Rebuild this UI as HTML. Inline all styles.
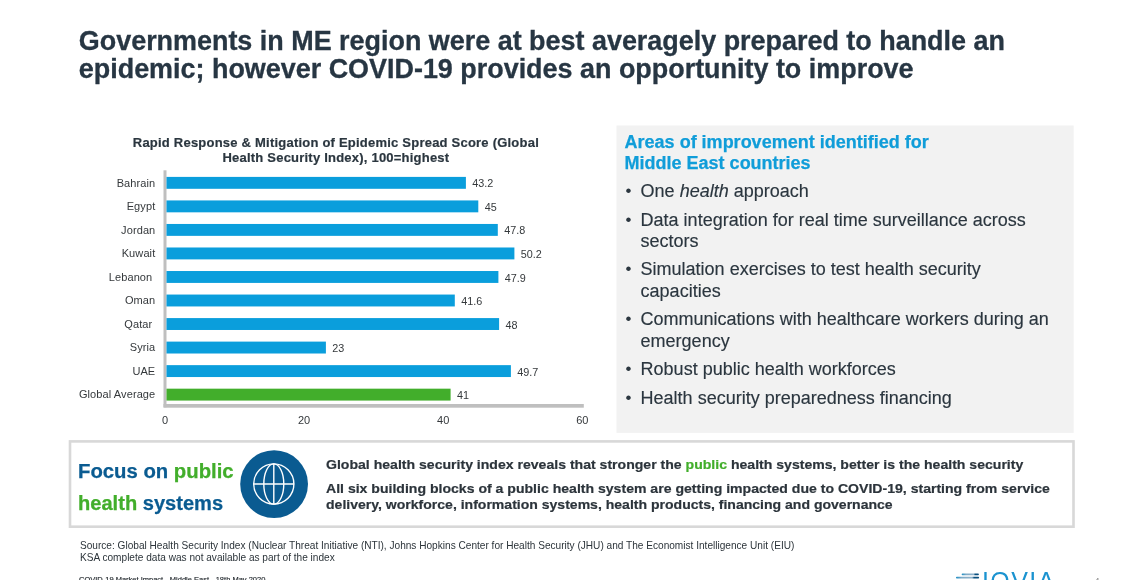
<!DOCTYPE html>
<html lang="en">
<head>
<meta charset="utf-8">
<title>Governments in ME region were at best averagely prepared to handle an epidemic</title>
<style>
html,body{margin:0;padding:0;background:#fff;}
body{width:1130px;height:580px;position:relative;overflow:hidden;font-family:"Liberation Sans",Arial,Helvetica,sans-serif;}
.t{position:absolute;white-space:nowrap;margin:0;padding:0;}
.b{position:absolute;}
.g{color:#42ae2b;-webkit-text-stroke-color:#42ae2b;}
</style>
</head>
<body>
<header>
<div class="t" style="left:78.80px;top:26px;font-size:26.93px;line-height:30px;color:#273643;font-weight:bold;-webkit-text-stroke:0.3px #273643;">Governments in ME region were at best averagely prepared to handle an</div>
<div class="t" style="left:78.80px;top:54px;font-size:26.93px;line-height:30px;color:#273643;font-weight:bold;-webkit-text-stroke:0.3px #273643;">epidemic; however COVID-19 provides an opportunity to improve</div>
</header>
<section>
<div class="t" style="left:35.90px;width:600px;text-align:center;top:128px;font-size:13px;line-height:30px;color:#2b363f;font-weight:bold;letter-spacing:0.22px;-webkit-text-stroke:0.2px #2f3b44;">Rapid Response &amp; Mitigation of Epidemic Spread Score (Global</div>
<div class="t" style="left:35.90px;width:600px;text-align:center;top:143px;font-size:13px;line-height:30px;color:#2b363f;font-weight:bold;letter-spacing:0.22px;-webkit-text-stroke:0.2px #2f3b44;">Health Security Index), 100=highest</div>
<svg class="b" style="left:0;top:0;" width="1130" height="580" viewBox="0 0 1130 580">
<rect x="616.5" y="125.5" width="457.2" height="307.4" fill="#f2f2f2"/>
<rect x="70" y="441.4" width="1003.5" height="85.3" fill="#fff" stroke="#d8d8d8" stroke-width="2.6"/>
<rect x="163.5" y="170.3" width="3" height="237" fill="#bfbfbf"/>
<rect x="163.5" y="404" width="420.3" height="3.7" fill="#bfbfbf"/>
<rect x="166.5" y="176.90" width="299.4" height="11.9" fill="#0a9edc"/>
<rect x="166.5" y="200.43" width="311.8" height="11.9" fill="#0a9edc"/>
<rect x="166.5" y="223.96" width="331.3" height="11.9" fill="#0a9edc"/>
<rect x="166.5" y="247.49" width="347.9" height="11.9" fill="#0a9edc"/>
<rect x="166.5" y="271.02" width="331.9" height="11.9" fill="#0a9edc"/>
<rect x="166.5" y="294.55" width="288.3" height="11.9" fill="#0a9edc"/>
<rect x="166.5" y="318.08" width="332.6" height="11.9" fill="#0a9edc"/>
<rect x="166.5" y="341.61" width="159.4" height="11.9" fill="#0a9edc"/>
<rect x="166.5" y="365.14" width="344.4" height="11.9" fill="#0a9edc"/>
<rect x="166.5" y="388.67" width="284.1" height="11.9" fill="#42ae2b"/>
</svg>
<div class="t" style="left:-244.70px;width:400px;text-align:right;top:168px;font-size:11px;line-height:30px;color:#34383b;letter-spacing:0.1px;">Bahrain</div>
<div class="t" style="left:472.28px;top:168px;font-size:10.8px;line-height:30px;color:#34383b;">43.2</div>
<div class="t" style="left:-244.70px;width:400px;text-align:right;top:191px;font-size:11px;line-height:30px;color:#34383b;letter-spacing:0.1px;">Egypt</div>
<div class="t" style="left:484.75px;top:192px;font-size:10.8px;line-height:30px;color:#34383b;">45</div>
<div class="t" style="left:-244.70px;width:400px;text-align:right;top:215px;font-size:11px;line-height:30px;color:#34383b;letter-spacing:0.1px;">Jordan</div>
<div class="t" style="left:504.15px;top:215px;font-size:10.8px;line-height:30px;color:#34383b;">47.8</div>
<div class="t" style="left:-244.70px;width:400px;text-align:right;top:238px;font-size:11px;line-height:30px;color:#34383b;letter-spacing:0.1px;">Kuwait</div>
<div class="t" style="left:520.79px;top:239px;font-size:10.8px;line-height:30px;color:#34383b;">50.2</div>
<div class="t" style="left:-247.70px;width:400px;text-align:right;top:262px;font-size:11px;line-height:30px;color:#34383b;letter-spacing:0.1px;">Lebanon</div>
<div class="t" style="left:504.85px;top:263px;font-size:10.8px;line-height:30px;color:#34383b;">47.9</div>
<div class="t" style="left:-244.70px;width:400px;text-align:right;top:285px;font-size:11px;line-height:30px;color:#34383b;letter-spacing:0.1px;">Oman</div>
<div class="t" style="left:461.19px;top:286px;font-size:10.8px;line-height:30px;color:#34383b;">41.6</div>
<div class="t" style="left:-247.70px;width:400px;text-align:right;top:309px;font-size:11px;line-height:30px;color:#34383b;letter-spacing:0.1px;">Qatar</div>
<div class="t" style="left:505.54px;top:310px;font-size:10.8px;line-height:30px;color:#34383b;">48</div>
<div class="t" style="left:-244.70px;width:400px;text-align:right;top:332px;font-size:11px;line-height:30px;color:#34383b;letter-spacing:0.1px;">Syria</div>
<div class="t" style="left:332.29px;top:333px;font-size:10.8px;line-height:30px;color:#34383b;">23</div>
<div class="t" style="left:-244.70px;width:400px;text-align:right;top:356px;font-size:11px;line-height:30px;color:#34383b;letter-spacing:0.1px;">UAE</div>
<div class="t" style="left:517.32px;top:357px;font-size:10.8px;line-height:30px;color:#34383b;">49.7</div>
<div class="t" style="left:-244.70px;width:400px;text-align:right;top:379px;font-size:11px;line-height:30px;color:#34383b;letter-spacing:0.1px;">Global Average</div>
<div class="t" style="left:457.03px;top:380px;font-size:10.8px;line-height:30px;color:#34383b;">41</div>
<div class="t" style="left:-135.00px;width:600px;text-align:center;top:405px;font-size:11px;line-height:30px;color:#34383b;">0</div>
<div class="t" style="left:4.10px;width:600px;text-align:center;top:405px;font-size:11px;line-height:30px;color:#34383b;">20</div>
<div class="t" style="left:143.20px;width:600px;text-align:center;top:405px;font-size:11px;line-height:30px;color:#34383b;">40</div>
<div class="t" style="left:282.30px;width:600px;text-align:center;top:405px;font-size:11px;line-height:30px;color:#34383b;">60</div>
</section>
<aside>
<div class="t" style="left:624.60px;top:127px;font-size:18px;line-height:30px;color:#109dd9;font-weight:bold;-webkit-text-stroke:0.25px #109dd9;">Areas of improvement identified for</div>
<div class="t" style="left:624.60px;top:148px;font-size:18px;line-height:30px;color:#109dd9;font-weight:bold;-webkit-text-stroke:0.25px #109dd9;">Middle East countries</div>
<div class="t" style="left:640.60px;top:176px;font-size:18px;line-height:30px;color:#2b363f;-webkit-text-stroke:0.15px #2b363f;">One <i>health</i> approach</div>
<div class="t" style="left:640.60px;top:205px;font-size:18px;line-height:30px;color:#2b363f;-webkit-text-stroke:0.15px #2b363f;">Data integration for real time surveillance across</div>
<div class="t" style="left:640.60px;top:226px;font-size:18px;line-height:30px;color:#2b363f;-webkit-text-stroke:0.15px #2b363f;">sectors</div>
<div class="t" style="left:640.60px;top:254px;font-size:18px;line-height:30px;color:#2b363f;-webkit-text-stroke:0.15px #2b363f;">Simulation exercises to test health security</div>
<div class="t" style="left:640.60px;top:276px;font-size:18px;line-height:30px;color:#2b363f;-webkit-text-stroke:0.15px #2b363f;">capacities</div>
<div class="t" style="left:640.60px;top:304px;font-size:18px;line-height:30px;color:#2b363f;-webkit-text-stroke:0.15px #2b363f;">Communications with healthcare workers during an</div>
<div class="t" style="left:640.60px;top:326px;font-size:18px;line-height:30px;color:#2b363f;-webkit-text-stroke:0.15px #2b363f;">emergency</div>
<div class="t" style="left:640.60px;top:354px;font-size:18px;line-height:30px;color:#2b363f;-webkit-text-stroke:0.15px #2b363f;">Robust public health workforces</div>
<div class="t" style="left:640.60px;top:383px;font-size:18px;line-height:30px;color:#2b363f;-webkit-text-stroke:0.15px #2b363f;">Health security preparedness financing</div>
<div class="t" style="left:625.40px;top:176px;font-size:17px;line-height:30px;color:#2b363f;">&bull;</div>
<div class="t" style="left:625.40px;top:205px;font-size:17px;line-height:30px;color:#2b363f;">&bull;</div>
<div class="t" style="left:625.40px;top:254px;font-size:17px;line-height:30px;color:#2b363f;">&bull;</div>
<div class="t" style="left:625.40px;top:304px;font-size:17px;line-height:30px;color:#2b363f;">&bull;</div>
<div class="t" style="left:625.40px;top:354px;font-size:17px;line-height:30px;color:#2b363f;">&bull;</div>
<div class="t" style="left:625.40px;top:383px;font-size:17px;line-height:30px;color:#2b363f;">&bull;</div>
</aside>
<section>
<div class="t" style="left:77.90px;top:456px;font-size:19.5px;line-height:30px;color:#0a5b91;font-weight:bold;transform:scaleX(1.041);transform-origin:0 0;-webkit-text-stroke-width:0.25px;"><span style="color:#0a5b91">Focus on</span> <span class="g">public</span></div>
<div class="t" style="left:77.90px;top:488px;font-size:19.5px;line-height:30px;color:#0a5b91;font-weight:bold;transform:scaleX(1.03);transform-origin:0 0;-webkit-text-stroke-width:0.25px;"><span class="g">health</span> <span style="color:#0a5b91">systems</span></div>
<svg class="b" style="left:240px;top:450px;" width="68.4" height="68.4" viewBox="0 0 68.4 68.4">
<circle cx="34.1" cy="34.1" r="33.9" fill="#0a5b91"/>
<g fill="none" stroke="#fff" stroke-width="1.4">
<circle cx="33.8" cy="34" r="20.1"/>
<ellipse cx="33.8" cy="34" rx="10" ry="20.1"/>
<line x1="33.8" y1="13.7" x2="33.8" y2="54.3"/>
<line x1="13.5" y1="34" x2="54.1" y2="34"/>
</g>
</svg>
<div class="t" style="left:326.40px;top:450px;font-size:13px;line-height:30px;color:#2c343b;font-weight:bold;transform:scaleX(1.082);transform-origin:0 0;-webkit-text-stroke:0.2px #2c343b;">Global health security index reveals that stronger the <span class="g">public</span> health systems, better is the health security</div>
<div class="t" style="left:326.00px;top:474px;font-size:13px;line-height:30px;color:#2c343b;font-weight:bold;transform:scaleX(1.082);transform-origin:0 0;-webkit-text-stroke:0.2px #2c343b;">All six building blocks of a public health system are getting impacted due to COVID-19, starting from service</div>
<div class="t" style="left:326.40px;top:490px;font-size:13px;line-height:30px;color:#2c343b;font-weight:bold;transform:scaleX(1.0795);transform-origin:0 0;-webkit-text-stroke:0.2px #2c343b;">delivery, workforce, information systems, health products, financing and governance</div>
</section>
<footer>
<div class="t" style="left:80.00px;top:531px;font-size:10.1px;line-height:30px;color:#2c343a;">Source: Global Health Security Index (Nuclear Threat Initiative (NTI), Johns Hopkins Center for Health Security (JHU) and The Economist Intelligence Unit (EIU)</div>
<div class="t" style="left:80.00px;top:543px;font-size:10.1px;line-height:30px;color:#2c343a;">KSA complete data was not available as part of the index</div>
<div class="t" style="left:79.00px;top:565px;font-size:7.5px;line-height:30px;color:#22282d;-webkit-text-stroke:0.15px #22282d;">COVID-19 Market Impact - Middle East - 18th May 2020</div>
<div class="t" style="left:1094.50px;top:566px;font-size:9px;line-height:30px;color:#8a8a8a;">4</div>
<svg class="b" style="left:950px;top:566px;" width="110" height="14" viewBox="0 0 110 14">
<defs><linearGradient id="lg" x1="0" y1="0" x2="1" y2="0"><stop offset="0" stop-color="#1c8fc6"/><stop offset="0.25" stop-color="#7faac6"/><stop offset="0.7" stop-color="#8fb2cb"/><stop offset="0.78" stop-color="#0a4f7e"/><stop offset="1" stop-color="#0a4f7e"/></linearGradient></defs>
<rect x="11.7" y="7.6" width="17.2" height="1.7" rx="0.8" fill="url(#lg)"/>
<rect x="6" y="10.8" width="23.1" height="1.7" rx="0.8" fill="url(#lg)"/>
<text x="31.9" y="24.1" font-family="Liberation Sans, Arial, sans-serif" font-size="25" fill="#1b93d0" letter-spacing="1.45">IQVIA</text>
</svg>
</footer>
</body>
</html>
